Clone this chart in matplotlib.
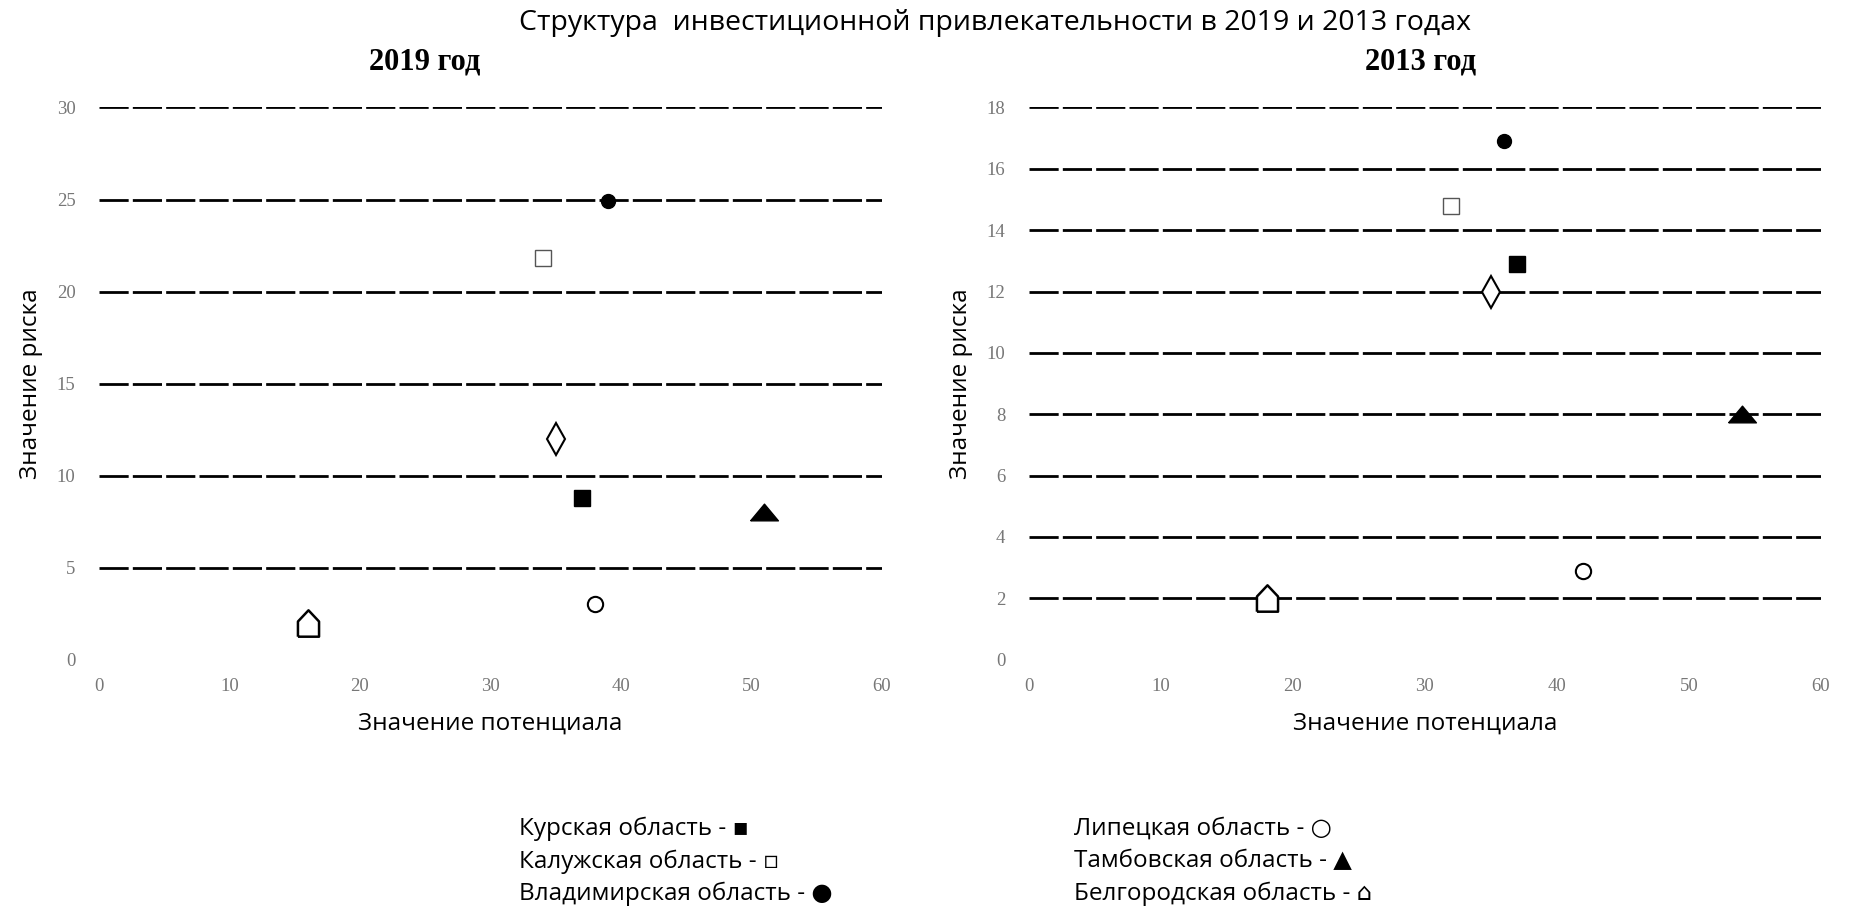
import matplotlib
matplotlib.use("Agg")
import matplotlib.pyplot as plt
import numpy as np

plt.rcParams['font.family'] = ['Open Sans', 'DejaVu Sans']
plt.rcParams['lines.scale_dashes'] = False

# данные: (потенциал, риск) по регионам
regions = ['Курская', 'Калужская', 'Владимирская', 'Липецкая', 'Тамбовская', 'Белгородская', 'прочие']
pot_2019 = [37, 34, 39, 38, 51, 16, 35]
risk_2019 = [8.8, 21.8, 24.9, 3.0, 8.0, 2.0, 12.0]
pot_2013 = [37, 32, 36, 42, 54, 18, 35]
risk_2013 = [12.9, 14.8, 16.9, 2.9, 8.0, 2.0, 12.0]

legend_left = ['Курская область - \u25aa', 'Калужская область - \u25ab', 'Владимирская область - \u25cf']
legend_right = ['Липецкая область - \u25cb', 'Тамбовская область - \u25b2', 'Белгородская область - \u2302']

house = [(-0.8, -1), (0.8, -1), (0.8, 0.15), (0, 1), (-0.8, 0.15), (-0.8, -1)]
tri = [(-1, -0.6), (1, -0.6), (0, 0.6), (-1, -0.6)]

# стиль маркеров для каждого региона
styles = [
    dict(marker='s', ms=11, mfc='black', mec='black', mew=1),
    dict(marker='s', ms=12, mfc='white', mec='#555555', mew=1),
    dict(marker='o', ms=10, mfc='black', mec='black', mew=1),
    dict(marker='o', ms=11, mfc='white', mec='black', mew=1.5),
    dict(marker=tri, ms=20, mfc='black', mec='black', mew=1),
    dict(marker=house, ms=19, mfc='white', mec='black', mew=1.8),
    dict(marker='d', ms=16, mfc='white', mec='black', mew=1.5),
]


def draw(ax, xs, ys, ymax, ystep, subtitle, sub_x):
    for x, y, st in zip(xs, ys, styles):
        ax.plot([x], [y], linestyle='none', zorder=3, **st)
    ax.set_xlim(0, 60)
    ax.set_ylim(0, ymax)
    ax.set_xticks(np.arange(0, 61, 10))
    ax.set_yticks(np.arange(0, ymax + 0.1, ystep))
    for s in ax.spines.values():
        s.set_visible(False)
    ax.tick_params(length=0, labelsize=13.5, labelcolor='#777777')
    ax.tick_params(axis='x', pad=13)
    ax.tick_params(axis='y', pad=17)
    for lab in ax.get_xticklabels() + ax.get_yticklabels():
        lab.set_family('Liberation Serif')
    ax.grid(axis='y', color='black', linewidth=2, linestyle=(0, (21, 3)))
    ax.get_ygridlines()[0].set_visible(False)
    ax.set_xlabel('Значение потенциала', fontsize=17.5, labelpad=12)
    ax.set_ylabel('Значение риска', fontsize=17.5, labelpad=10)
    fig.text(sub_x, 0.932, subtitle, ha='center', va='center', fontsize=22,
             fontweight='bold', family='Liberation Serif')


fig = plt.figure(figsize=(18.52, 9.11), dpi=100)
ax1 = fig.add_axes([0.0535, 0.276, 0.4226, 0.606])
ax2 = fig.add_axes([0.5556, 0.276, 0.4276, 0.606])

draw(ax1, pot_2019, risk_2019, 30, 5, '2019 год', 425 / 1852)
draw(ax2, pot_2013, risk_2013, 18, 2, '2013 год', 1421 / 1852)

fig.text(0.537, 0.975, 'Структура  инвестиционной привлекательности в 2019 и 2013 годах',
         ha='center', va='center', fontsize=20.5)

for i, t in enumerate(legend_left):
    fig.text(519 / 1852, 1 - (829 + i * 32.5) / 911, t, ha='left', va='center', fontsize=17.5)
for i, t in enumerate(legend_right):
    fig.text(1074 / 1852, 1 - (829 + i * 32.5) / 911, t, ha='left', va='center', fontsize=17.5)

fig.savefig('out.png', dpi=100)
